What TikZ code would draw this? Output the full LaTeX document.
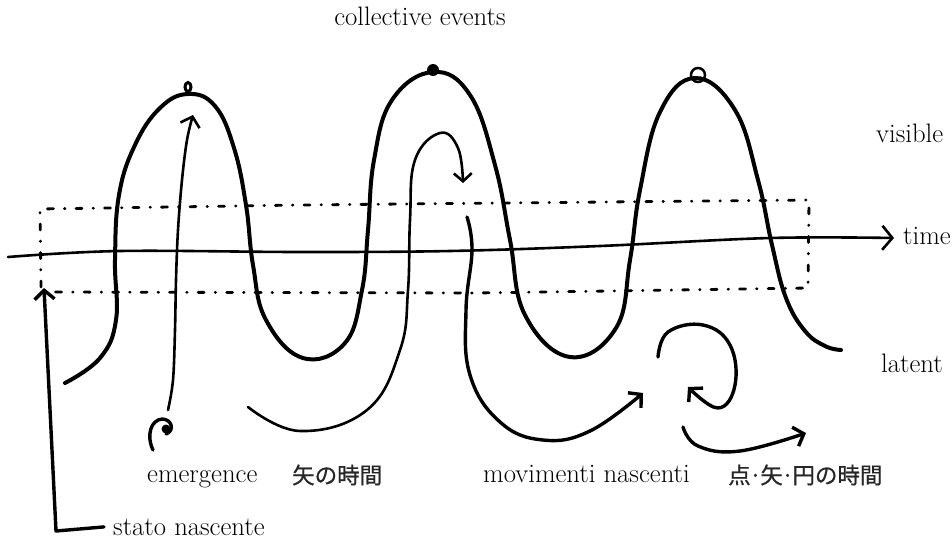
\documentclass[tikz,border=0pt]{standalone}
\usepackage{fontspec}
\newfontfamily\cjk{Noto Sans CJK JP}[FakeBold=0.6]
\usetikzlibrary{arrows.meta}
\begin{document}
\begin{tikzpicture}[x=1pt,y=-1pt,
  wave/.style={line width=4pt,line cap=round,line join=round},
  thinline/.style={line width=2.6pt,line cap=round,line join=round},
  midline/.style={line width=3.4pt,line cap=round,line join=round},
  barb/.style={-{Straight Barb[length=9pt,width=20pt]}},
  dotrect/.style={line width=2.8pt,line cap=round,dash pattern=on 6pt off 11pt on 0.5pt off 11pt},
  lbl/.style={inner sep=0pt,font=\fontsize{26.7}{30}\selectfont},
  jlbl/.style={inner sep=0pt,text=black!85,font=\cjk\fontsize{22.5}{27}\selectfont}]
\fill[white] (0,0) rectangle (952,541);
\useasboundingbox (0,0) rectangle (952,541);

% labels
\node[lbl,anchor=base] (ce) at (420,25) {collective events};
\node[lbl,anchor=base west] (vis) at (876,142) {visible};
\node[lbl,anchor=base west] (time) at (903,244) {time};
\node[lbl,anchor=base west] (lat) at (881,372) {latent};
\node[lbl,anchor=base west] (em) at (147,482) {emergence};
\node[jlbl,anchor=west] (ya) at (292,475) {矢の時間};
\node[lbl,anchor=base west] (mov) at (483,482) {movimenti nascenti};
\node[jlbl,anchor=west] (tn) at (728,475) {点\kern-1.5pt·\kern-1.5pt矢\kern-1.5pt·\kern-1.5pt円の時間};
\node[lbl,anchor=base west] (sn) at (113,535) {stato nascente};

% dotted band
\draw[dotrect] (41,287) -- (40,209) -- (300,205) -- (809,200) -- (808,288) -- (476,293) -- (48,292);

% time axis
\draw[thinline,-{Straight Barb[length=10pt,width=24pt]}] plot[smooth,tension=0.6] coordinates {(8,257) (120,251) (300,252) (450,251) (600,246) (770,238) (894,238)};

% main wave
\draw[wave] plot[smooth,tension=0.7] coordinates {
 (65,383) (100,358) (116,320) (115,260) (119,195) (135,145) (160,108) (188,94)
 (215,106) (234,148) (246,205) (253,265) (266,320) (303,358) (345,343) (362,290)
 (368,230) (374,160) (392,100) (433,72) (470,95) (495,165) (510,240) (525,315)
 (570,357) (616,328) (630,260) (640,190) (660,112) (695,78) (735,110) (758,180)
 (772,245) (786,298) (805,331) (825,346) (841,350)};

% peak marks
\draw[line width=3pt] (188,87) ellipse (3pt and 4.5pt);
\fill (433,70) circle (6pt);
\draw[line width=2.5pt] (698,75) circle (7pt);

% emergence arrow
\draw[thinline,barb] plot[smooth,tension=0.6] coordinates {(168,410) (173,380) (175,330) (176,280) (178,230) (182,180) (187,140) (193,115)};
\draw[midline] (153,450) .. controls (146,435) and (151,420) .. (162,419) .. controls (172,419) and (175,431) .. (166,434);
\fill (166,429) circle (4.5pt);

% inner arrow in second hump
\draw[thinline,-{Straight Barb[length=8pt,width=18pt]}] plot[smooth,tension=0.7] coordinates {
 (248,407) (300,431) (367,410) (400,350) (408,290) (410,220) (415,160) (440,133) (458,148) (463,183)};

% arrow to movimenti nascenti
\draw[midline,-{Straight Barb[length=9pt,width=20pt]}] plot[smooth,tension=0.7] coordinates {
 (467,217) (472,250) (466,310) (470,375) (500,422) (543,440) (590,431) (643,393)};

% circular arrow
\draw[midline,-{Straight Barb[length=9pt,width=20pt]}] plot[smooth,tension=0.7] coordinates {
 (658,357) (668,332) (703,325) (730,345) (735,385) (718,408) (688,387)};

% bottom arrow
\draw[midline,-{Straight Barb[length=9pt,width=20pt]}] plot[smooth,tension=0.7] coordinates {
 (683,427) (698,446) (740,451) (806,433)};

% stato nascente arrow
\coordinate (snc) at (56,531);
\coordinate (snt) at (44,288);
\draw[midline,-{Straight Barb[length=9pt,width=20pt]}] ([xshift=-9pt]sn.west) -- (snc) -- (snt);
\end{tikzpicture}
\end{document}
